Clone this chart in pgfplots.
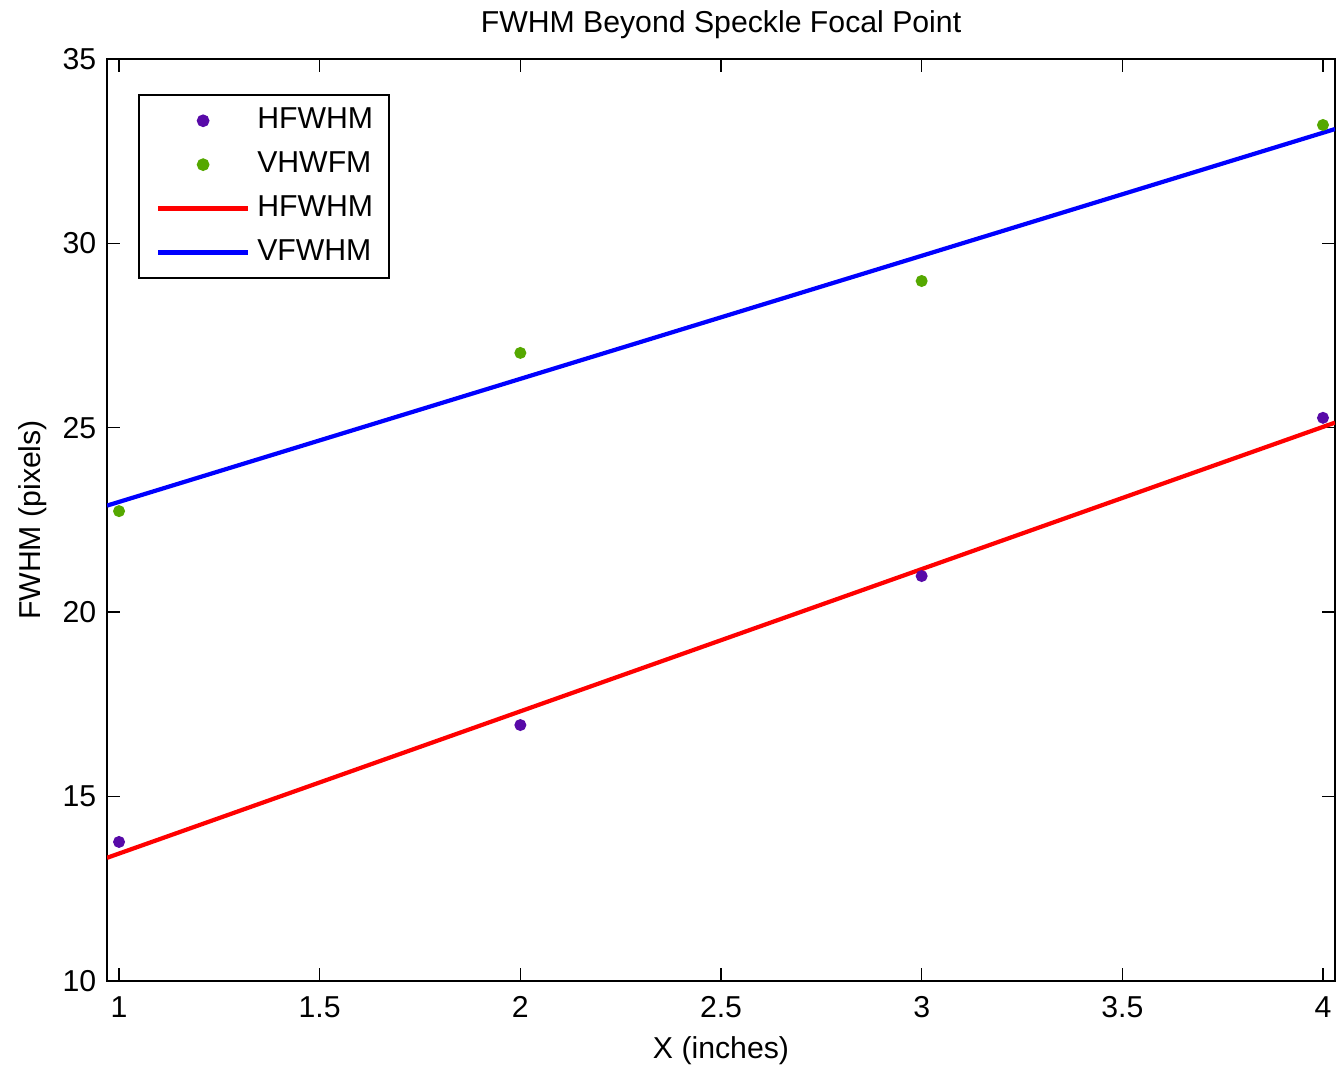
\documentclass[border=0pt]{standalone}
\usepackage{pgfplots}
\pgfplotsset{compat=1.18}
\usepackage{fontspec}
\setmainfont{Liberation Sans}
\usetikzlibrary{calc}
\definecolor{hpurple}{RGB}{88,10,168}
\definecolor{vgreen}{RGB}{85,168,0}
\begin{document}
\begin{tikzpicture}
\fontsize{8.6}{10}\selectfont
\begin{axis}[
  scale only axis,
  width=12.28cm, height=9.22cm,
  xmin=0.97, xmax=4.03, ymin=10, ymax=35,
  xtick={1,1.5,2,2.5,3,3.5,4},
  ytick={10,15,20,25,30,35},
  xticklabels={1,1.5,2,2.5,3,3.5,4},
  tick align=inside,
  major tick length=0.13cm,
  tick style={black, line width=0.4pt},
  axis line style={black, line width=0.6pt},
  /pgf/number format/assume math mode=true,
  ticklabel style={font=\fontsize{8.6}{10}\selectfont},
  xticklabel style={yshift=-0.05cm},
  label style={font=\fontsize{8.6}{10}\selectfont},
  title style={font=\fontsize{8.6}{10}\selectfont, yshift=-0.12cm},
  title={FWHM Beyond Speckle Focal Point},
  xlabel={X (inches)},
  ylabel={FWHM (pixels)},
  xlabel style={yshift=0.02cm},
  ylabel style={yshift=-0.05cm},
  legend style={at={(0.0252,0.962)}, anchor=north west, draw=black, line width=0.6pt,
    font=\fontsize{8.6}{10}\selectfont, inner xsep=0.085cm, inner ysep=0.06cm, row sep=0.045cm, cells={anchor=west}},
  legend image code/.code={\path (-0.085cm,0cm);\draw[mark repeat=2,mark phase=2,#1] plot coordinates {(0cm,0cm)(0.45cm,0cm)(0.9cm,0cm)};},
]
\addplot[only marks, mark=*, mark size=1.5pt, color=hpurple, mark options={draw=hpurple, fill=hpurple}]
  coordinates {(1,13.77) (2,16.94) (3,20.98) (4,25.27)};
\addlegendentry{HFWHM}
\addplot[only marks, mark=*, mark size=1.5pt, color=vgreen, mark options={draw=vgreen, fill=vgreen}]
  coordinates {(1,22.74) (2,27.03) (3,28.98) (4,33.21)};
\addlegendentry{VHWFM}
\addplot[red, line width=1.2pt, no marks]
  coordinates {(0.97,13.34) (4.03,25.14)};
\addlegendentry{HFWHM}
\addplot[blue, line width=1.2pt, no marks]
  coordinates {(0.97,22.89) (4.03,33.10)};
\addlegendentry{VFWHM}
\end{axis}
\pgfresetboundingbox
\path[use as bounding box] ($(current axis.south west)+(-1.07cm,-0.85cm)$) rectangle ($(current axis.north east)+(0.02cm,0.59cm)$);
\end{tikzpicture}
\end{document}
